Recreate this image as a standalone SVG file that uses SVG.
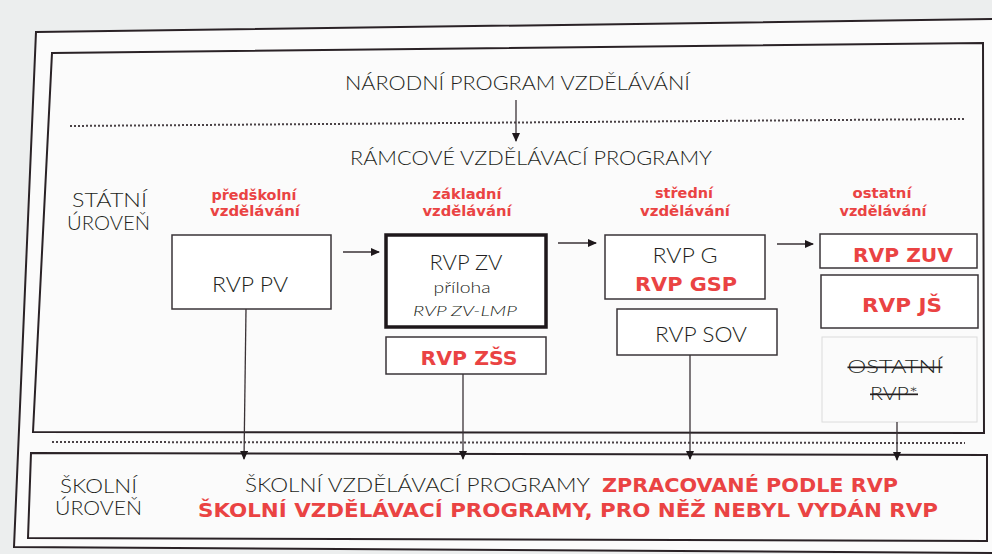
<svg xmlns="http://www.w3.org/2000/svg" width="992" height="554" viewBox="0 0 992 554">
<style>
.frame{fill:none;stroke:#2a2226;stroke-width:2}
.box{fill:#fff;stroke:#3a3438;stroke-width:1.5}
.thick{fill:#fff;stroke:#1e181b;stroke-width:3.5}
.ghost{fill:#fbfbfb;stroke:#dcdcdc;stroke-width:1}
.dot{stroke:#4a4246;stroke-width:2;stroke-dasharray:2 2;fill:none}
.con{stroke:#3a3236;stroke-width:1.3;fill:none}
.t{font-family:Lato,"Open Sans","DejaVu Sans",sans-serif;font-weight:300;fill:#231f21}
.r{font-family:"DejaVu Sans",Verdana,sans-serif;font-weight:bold;fill:#ea4343}
.lbl{font-size:14px;text-anchor:middle}
.bx{font-size:22px;text-anchor:middle}
.rb{font-size:20px;text-anchor:middle}
.big{font-size:20px}
</style>
<defs>
<marker id="ah" markerWidth="10" markerHeight="10" refX="8" refY="4" orient="auto" markerUnits="userSpaceOnUse">
<path d="M0,0 L9,4 L0,8 Z" fill="#1e181b"/>
</marker>
</defs>
<rect x="0" y="0" width="992" height="554" fill="#eceeee"/>
<path d="M36,32 L1000,19 L1000,553 L14,547 Z" fill="#fbfbfb" stroke="#2a2226" stroke-width="2"/>
<g id="panel-state"><path class="frame" d="M52,53 L983,43 L984,433 L33,432 Z" fill="#fff"/></g>
<g id="panel-school"><path class="frame" d="M31,453 L987,455 L987,541 L28,538 Z" fill="#fff"/></g>
<path class="dot" d="M70,126 L965,119"/>
<path class="dot" d="M52,442 L965,443"/>

<g id="narodni"><text class="t big" x="345" y="90" textLength="345" lengthAdjust="spacingAndGlyphs">NÁRODNÍ PROGRAM VZDĚLÁVÁNÍ</text></g>
<g id="ramcove"><text class="t big" x="350" y="165" textLength="362" lengthAdjust="spacingAndGlyphs">RÁMCOVÉ VZDĚLÁVACÍ PROGRAMY</text></g>
<g id="statni">
<text class="t big" x="72" y="207" textLength="75" lengthAdjust="spacingAndGlyphs">STÁTNÍ</text>
<text class="t big" x="67" y="230" textLength="83" lengthAdjust="spacingAndGlyphs">ÚROVEŇ</text>
</g>
<g id="labels">
<text class="r lbl" x="254" y="200" textLength="85" lengthAdjust="spacingAndGlyphs">předškolní</text>
<text class="r lbl" x="255" y="216" textLength="90" lengthAdjust="spacingAndGlyphs">vzdělávání</text>
<text class="r lbl" x="467" y="199" textLength="69" lengthAdjust="spacingAndGlyphs">základní</text>
<text class="r lbl" x="467" y="216" textLength="89" lengthAdjust="spacingAndGlyphs">vzdělávání</text>
<text class="r lbl" x="684" y="198" textLength="58" lengthAdjust="spacingAndGlyphs">střední</text>
<text class="r lbl" x="685" y="216" textLength="90" lengthAdjust="spacingAndGlyphs">vzdělávání</text>
<text class="r lbl" x="882" y="198" textLength="59" lengthAdjust="spacingAndGlyphs">ostatní</text>
<text class="r lbl" x="883" y="216" textLength="87" lengthAdjust="spacingAndGlyphs">vzdělávání</text>
</g>

<g id="rvp-pv"><rect class="box" x="172" y="235" width="159" height="74"/>
<text class="t bx" x="250" y="292" font-size="24" textLength="76" lengthAdjust="spacingAndGlyphs">RVP PV</text></g>
<g id="rvp-zv"><rect class="thick" x="386" y="235" width="160" height="92"/>
<text class="t bx" x="466" y="270" textLength="73" lengthAdjust="spacingAndGlyphs">RVP ZV</text>
<text class="t" x="462" y="293" font-size="15" text-anchor="middle" textLength="57" lengthAdjust="spacingAndGlyphs">příloha</text>
<text class="t" x="465" y="316" font-size="14" font-style="italic" text-anchor="middle" textLength="104" lengthAdjust="spacingAndGlyphs">RVP ZV-LMP</text></g>
<g id="rvp-zss"><rect class="box" x="386" y="337" width="160" height="37"/>
<text class="r rb" x="469" y="365" textLength="97" lengthAdjust="spacingAndGlyphs">RVP ZŠS</text></g>
<g id="rvp-g"><rect class="box" x="605" y="235" width="160" height="64"/>
<text class="t bx" x="685" y="263" textLength="65" lengthAdjust="spacingAndGlyphs">RVP G</text>
<text class="r rb" x="686" y="291" textLength="102" lengthAdjust="spacingAndGlyphs">RVP GSP</text></g>
<g id="rvp-sov"><rect class="box" x="617" y="309" width="160" height="46"/>
<text class="t bx" x="701" y="342" textLength="92" lengthAdjust="spacingAndGlyphs">RVP SOV</text></g>
<g id="rvp-zuv"><rect class="box" x="820" y="234" width="157" height="34"/>
<text class="r rb" x="903" y="262" textLength="100" lengthAdjust="spacingAndGlyphs">RVP ZUV</text></g>
<g id="rvp-js"><rect class="box" x="821" y="275" width="157" height="53"/>
<text class="r rb" x="902" y="312" textLength="80" lengthAdjust="spacingAndGlyphs">RVP JŠ</text></g>
<g id="ostatni-rvp"><rect class="ghost" x="822" y="337" width="155" height="85"/>
<text class="t" x="895" y="373" font-size="17" text-anchor="middle" textLength="95" lengthAdjust="spacingAndGlyphs" text-decoration="line-through" fill="#555">OSTATNÍ</text>
<text class="t" x="894" y="400" font-size="17" text-anchor="middle" textLength="48" lengthAdjust="spacingAndGlyphs" text-decoration="line-through" fill="#555">RVP*</text></g>

<g id="skolni">
<text class="t big" x="60" y="493" textLength="77" lengthAdjust="spacingAndGlyphs">ŠKOLNÍ</text>
<text class="t big" x="55" y="515" textLength="87" lengthAdjust="spacingAndGlyphs">ÚROVEŇ</text>
<text x="245" y="492" font-size="20"><tspan class="t" textLength="345" lengthAdjust="spacingAndGlyphs">ŠKOLNÍ VZDĚLÁVACÍ PROGRAMY</tspan><tspan class="r" x="602" font-size="19" textLength="296" lengthAdjust="spacingAndGlyphs">ZPRACOVANÉ PODLE RVP</tspan></text>
<text class="r" x="198" y="517" font-size="19" textLength="740" lengthAdjust="spacingAndGlyphs">ŠKOLNÍ VZDĚLÁVACÍ PROGRAMY, PRO NĚŽ NEBYL VYDÁN RVP</text>
</g>

<g id="connectors">
<line class="con" x1="516" y1="100" x2="516" y2="141" marker-end="url(#ah)"/>
<line class="con" x1="343" y1="252" x2="379" y2="252" marker-end="url(#ah)"/>
<line class="con" x1="558" y1="243" x2="596" y2="243" marker-end="url(#ah)"/>
<line class="con" x1="777" y1="244" x2="813" y2="244" marker-end="url(#ah)"/>
<line class="con" x1="246" y1="309" x2="244" y2="459" marker-end="url(#ah)"/>
<line class="con" x1="463" y1="374" x2="463" y2="459" marker-end="url(#ah)"/>
<line class="con" x1="690" y1="355" x2="690" y2="459" marker-end="url(#ah)"/>
<line class="con" x1="897" y1="422" x2="897" y2="460" marker-end="url(#ah)"/>
</g>
</svg>
